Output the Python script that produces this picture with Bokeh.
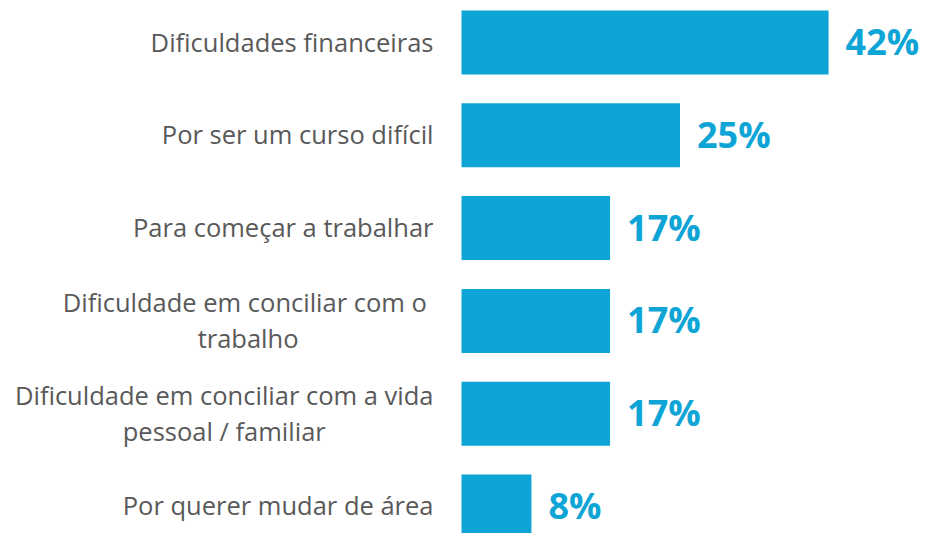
from bokeh.plotting import figure
from bokeh.models import ColumnDataSource, Range1d
from bokeh.core.properties import value
from bokeh.embed import file_html
from bokeh.resources import INLINE

categories = [
    "Dificuldades financeiras",
    "Por ser um curso difícil",
    "Para começar a trabalhar",
    "Dificuldade em conciliar com o \ntrabalho",
    "Dificuldade em conciliar com a vida\npessoal / familiar",
    "Por querer mudar de área",
]
values = [42, 25, 17, 17, 17, 8]
value_labels = ["42%", "25%", "17%", "17%", "17%", "8%"]

BLUE = "#0EA5D6"
GRAY = "#595959"

src = ColumnDataSource(dict(
    pos=list(range(len(categories))),
    cat=categories,
    val=values,
    lab=value_labels,
))

p = figure(width=925, height=533, output_backend="svg", toolbar_location=None,
           x_range=Range1d(-52.75, 53.09), y_range=Range1d(5.291, -0.4526),
           min_border=0, outline_line_color=None)
p.xaxis.visible = False
p.yaxis.visible = False
p.xgrid.visible = False
p.ygrid.visible = False

p.hbar(y="pos", left=0, right="val", height=0.69, source=src,
       fill_color=BLUE, line_color=None)

p.text(x=0, y="pos", text="cat", source=src, x_offset=-28, y_offset=-1,
       text_font=value("Open Sans"), text_font_size="25.5px", text_color=GRAY,
       text_align="center", text_baseline="middle", anchor=value("center_right"),
       text_line_height=1.05)

p.text(x="val", y="pos", text="lab", source=src, x_offset=17, y_offset=-1,
       text_font=value("Open Sans"), text_font_size="36px", text_font_style="bold",
       text_color=BLUE, text_align="left", text_baseline="middle")

open("out.html", "w").write(file_html(p, INLINE))
